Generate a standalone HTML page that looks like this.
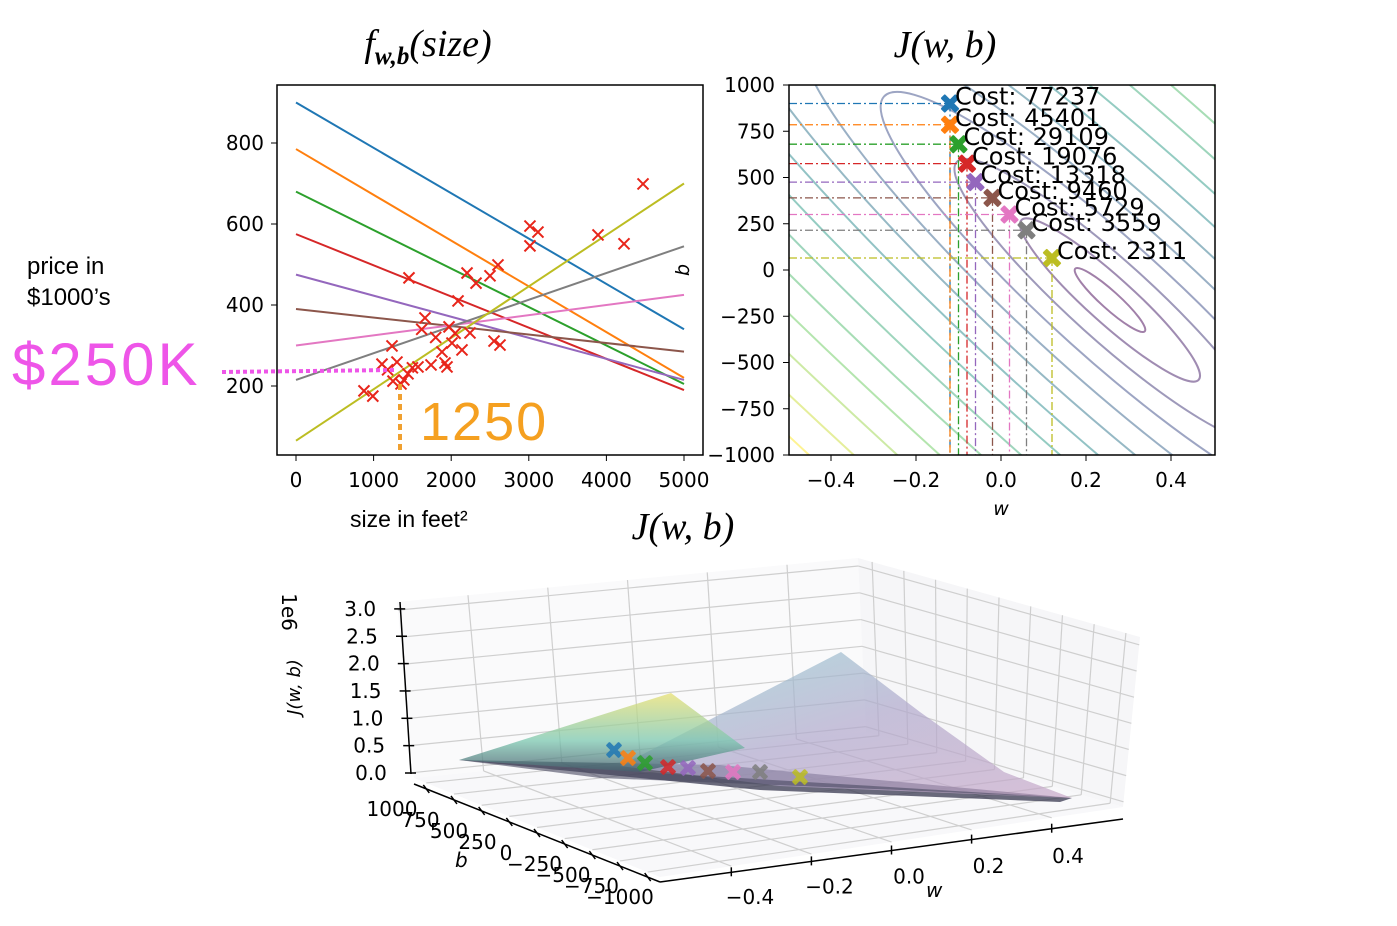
<!DOCTYPE html>
<html><head><meta charset="utf-8"><style>
html,body{margin:0;padding:0;background:#fff;width:1397px;height:926px;overflow:hidden;}
svg{display:block;font-family:"DejaVu Sans","Liberation Sans",sans-serif;}
</style></head><body>
<svg id="fig" width="1397" height="926" viewBox="0 0 1397 926" xmlns="http://www.w3.org/2000/svg">
<defs>
<clipPath id="clipL"><rect x="277" y="85" width="426" height="370"/></clipPath>
<clipPath id="clipR"><rect x="789" y="85" width="426" height="370"/></clipPath>
<linearGradient id="gY" x1="0" y1="0" x2="0" y2="1"><stop offset="0" stop-color="#e8e070"/><stop offset="0.6" stop-color="#7cc8b0"/><stop offset="1" stop-color="#405868"/></linearGradient>
<linearGradient id="gP" x1="0" y1="0" x2="1" y2="1"><stop offset="0" stop-color="#8fd0d0"/><stop offset="0.5" stop-color="#b0a8cc"/><stop offset="1" stop-color="#c8a8c8"/></linearGradient>
</defs>
<g id="titles">
<text x="428" y="56" text-anchor="middle" font-family="Liberation Serif,serif" font-style="italic" font-size="38">f<tspan font-size="25" dy="8" font-weight="bold">w,b</tspan><tspan dy="-8">(size)</tspan></text>
<text x="945" y="57" text-anchor="middle" font-family="Liberation Serif,serif" font-style="italic" font-size="38">J(w, b)</text>
<text x="683" y="539" text-anchor="middle" font-family="Liberation Serif,serif" font-style="italic" font-size="38">J(w, b)</text>
</g>
<g id="left"></g>
<g id="right"></g>
<g id="bottom"></g>
<g id="annot">
<text x="27" y="274" font-size="24" font-family="Liberation Sans,sans-serif">price in</text>
<text x="27" y="305" font-size="24" font-family="Liberation Sans,sans-serif">$1000’s</text>
<text x="12" y="385" font-size="60" fill="#ee55e8" font-family="Liberation Sans,sans-serif" letter-spacing="3">$250K</text>
<line x1="222" y1="372" x2="396" y2="370" stroke="#ee55e8" stroke-width="4" stroke-dasharray="4,3"/>
<line x1="400" y1="384" x2="400" y2="452" stroke="#f0a030" stroke-width="4" stroke-dasharray="6,4"/>
<text x="420" y="440" font-size="54" fill="#f5a020" font-family="Liberation Sans,sans-serif" letter-spacing="2">1250</text>
<text x="350" y="527" font-size="23" font-family="Liberation Sans,sans-serif">size in feet²</text>
</g>
</svg>
<script>
const NS="http://www.w3.org/2000/svg";
const colors=["#1f77b4","#ff7f0e","#2ca02c","#d62728","#9467bd","#8c564b","#e377c2","#7f7f7f","#bcbd22"];
const pathW=[-0.12,-0.12,-0.10,-0.08,-0.06,-0.02,0.02,0.06,0.12];
const pathB=[900,785,680,575,475,390,300,215,65];
const costs=[77237,45401,29109,19076,13318,9460,5729,3559,2311];
const lineEnd=[340,220,205,190,215,285,425,545,700];
const sizes=[990,876,1108,1237,1301,1250,1353,1443,1456,1572,1662,1740,1881,1920,1946,1972,2010,2088,2139,2204,2242,2320,2500,2552,2603,2629,3015,3015,3118,3892,4227,4472,1180,1390,1500,1800,2050,1620];
const prices=[175,188,254,299,259,212,205,230,467,247,368,252,284,257,247,346,306,410,289,479,331,454,472,311,499,301,546,595,580,573,551,699,240,215,245,320,330,340];
const xTicksL=[0,1000,2000,3000,4000,5000];
const yTicksL=[200,400,600,800];
const xTicksR=[-0.4,-0.2,0.0,0.2,0.4];
const yTicksR=[1000,750,500,250,0,-250,-500,-750,-1000];
const zTicks=[0,0.5,1.0,1.5,2.0,2.5,3.0];
const bTicks3=[1000,750,500,250,0,-250,-500,-750,-1000];
const wTicks3=[-0.4,-0.2,0.0,0.2,0.4];

function el(tag,attrs,parent){const e=document.createElementNS(NS,tag);for(const k in attrs)e.setAttribute(k,attrs[k]);parent.appendChild(e);return e;}
function txt(parent,x,y,s,attrs){const t=el('text',Object.assign({x:x,y:y},attrs||{}),parent);t.textContent=s;return t;}
function xMark(parent,x,y,s,color,w){return el('path',{d:`M${x-s},${y-s}L${x+s},${y+s}M${x-s},${y+s}L${x+s},${y-s}`,stroke:color,'stroke-width':w,fill:'none'},parent);}
function fatX(parent,x,y,s,color){
  const g=el('g',{transform:`translate(${x},${y}) rotate(45)`,fill:color},parent);
  const w=s*0.75;
  el('rect',{x:-s*1.3,y:-w/2,width:s*2.6,height:w,rx:1},g);
  el('rect',{x:-w/2,y:-s*1.3,width:w,height:s*2.6,rx:1},g);
  return g;
}

// LEFT
const L=document.getElementById('left');
const lx=v=>296+v*0.0776, ly=v=>467-v*0.405;
const lc=el('g',{'clip-path':'url(#clipL)'},L);
pathB.forEach((b,i)=>{
  const ln=el('line',{x1:lx(0),y1:ly(b),x2:lx(5000),y2:ly(lineEnd[i]),stroke:colors[i],'stroke-width':2},lc);
  
  
});
sizes.forEach((s,i)=>{
  const m=xMark(lc,lx(s),ly(prices[i]),5.5,'#e8251a',2);
  
  
});
const lf=el('rect',{x:277,y:85,width:426,height:370,fill:'none',stroke:'#000','stroke-width':1.5},L);


xTicksL.forEach(t=>{el('line',{x1:lx(t),y1:455,x2:lx(t),y2:461,stroke:'#000'},L);
  const tt=txt(L,lx(t),487,String(t),{'text-anchor':'middle','font-size':20});
  
  });
yTicksL.forEach(t=>{el('line',{x1:271,y1:ly(t),x2:277,y2:ly(t),stroke:'#000'},L);
  const tt=txt(L,264,ly(t)+7,String(t),{'text-anchor':'end','font-size':20});
  
  });

// RIGHT
const R=document.getElementById('right');
const rx=v=>1001+v*425, ry=v=>270-v*0.185;
const rc=el('g',{'clip-path':'url(#clipR)'},R);
function viridis(t){const c=[[68,1,84],[59,82,139],[33,145,140],[94,201,98],[253,231,37]];
  const s=t*(c.length-1),i=Math.min(Math.floor(s),c.length-2),f=s-i;
  return `rgb(${c[i].map((v,k)=>Math.round(v+(c[i+1][k]-v)*f)).join(',')})`;}
const nLev=17;
for(let k=1;k<=nLev;k++){
  const r=9*Math.pow(k,1.35);
  const e=el('ellipse',{cx:1110,cy:300,rx:r*5.2,ry:r,transform:'rotate(42 1110 300)',fill:'none',stroke:viridis(Math.min(1,(k-1)/13)),'stroke-width':2,opacity:0.5},rc);
  
  
}
pathW.forEach((w,i)=>{
  const px=rx(w),py=ry(pathB[i]);
  el('line',{x1:789,y1:py,x2:px,y2:py,stroke:colors[i],'stroke-width':1.3,'stroke-dasharray':'8,3,2,3'},rc);
  el('line',{x1:px,y1:py,x2:px,y2:455,stroke:colors[i],'stroke-width':1.3,'stroke-dasharray':'8,3,2,3'},rc);
});
pathW.forEach((w,i)=>{
  const px=rx(w),py=ry(pathB[i]);
  const m=fatX(R,px,py,8,colors[i]);
  
  
  const t=txt(R,px+5,py+1,'Cost: '+costs[i],{'font-size':24});
  
  
});
const rf=el('rect',{x:789,y:85,width:426,height:370,fill:'none',stroke:'#000','stroke-width':1.5},R);


xTicksR.forEach(t=>{el('line',{x1:rx(t),y1:455,x2:rx(t),y2:461,stroke:'#000'},R);
  const tt=txt(R,rx(t),487,(t<0?'−':'')+Math.abs(t).toFixed(1),{'text-anchor':'middle','font-size':20});
  
  });
yTicksR.forEach(t=>{el('line',{x1:783,y1:ry(t),x2:789,y2:ry(t),stroke:'#000'},R);
  const tt=txt(R,775,ry(t)+7,(t<0?'−':'')+Math.abs(t),{'text-anchor':'end','font-size':20});
  
  });
const wl=txt(R,1001,515,'w',{'text-anchor':'middle','font-size':19,'font-style':'italic'});

const bl=txt(R,0,0,'b',{'text-anchor':'middle','font-size':19,'font-style':'italic',transform:'translate(689,270) rotate(-90)'});


// BOTTOM 3D
const B=document.getElementById('bottom');
function bil(c,u,v){
  const x=(1-u)*(1-v)*c[0][0]+u*(1-v)*c[1][0]+u*v*c[2][0]+(1-u)*v*c[3][0];
  const y=(1-u)*(1-v)*c[0][1]+u*(1-v)*c[1][1]+u*v*c[2][1]+(1-u)*v*c[3][1];
  return [x,y];}
const paneL=[[414,778],[866,732],[858,558],[397,602]];
const paneR=[[866,732],[1123,807],[1140,637],[858,558]];
const floor=[[414,778],[866,732],[1123,807],[660,877]];
el('polygon',{points:paneL.map(p=>p.join(',')).join(' '),fill:'#fafafb'},B);
el('polygon',{points:paneR.map(p=>p.join(',')).join(' '),fill:'#f6f6f8'},B);
el('polygon',{points:floor.map(p=>p.join(',')).join(' '),fill:'#f8f8fa'},B);
const gs={stroke:'#cfcfcf','stroke-width':1.2};
const uw=w=>0.5+w*0.865, ub=b=>0.5-b/1000*0.45, vz=z=>(z+0.1)/3.25;
function seg(p,q){el('line',Object.assign({x1:p[0],y1:p[1],x2:q[0],y2:q[1]},gs),B);}
wTicks3.forEach(w=>{seg(bil(paneL,uw(w),0),bil(paneL,uw(w),1));
  seg(bil(floor,uw(w),0),bil([floor[3],floor[2],floor[1],floor[0]],uw(w),0));});
zTicks.forEach(z=>{seg(bil(paneL,0,vz(z)),bil(paneL,1,vz(z)));seg(bil(paneR,0,vz(z)),bil(paneR,1,vz(z)));});
bTicks3.forEach(b=>{seg(bil(paneR,ub(b),0),bil(paneR,ub(b),1));
  const u=ub(b);
  const p=[floor[0][0]+(floor[3][0]-floor[0][0])*u,floor[0][1]+(floor[3][1]-floor[0][1])*u];
  const q=[floor[1][0]+(floor[2][0]-floor[1][0])*u,floor[1][1]+(floor[2][1]-floor[1][1])*u];
  seg(p,q);});
const sf=el('g',{},B);


el('polygon',{points:'459,760 720,765 1072,798 1060,802 760,790',fill:'#3a3a50',opacity:0.75},sf);
el('polygon',{points:'620,766 841,652 920,712 1004,772 1072,798 780,786',fill:'url(#gP)',opacity:0.7},sf);
el('polygon',{points:'459,760 671,693 745,748 640,772',fill:'url(#gY)',opacity:0.75},sf);
el('polygon',{points:'459,760 640,772 1072,798 900,790 600,778',fill:'#4a4a60',opacity:0.6},sf);
const surfX=[614,628,645,668,688,708,733,760,800];
const surfY=[750,758,763,767,768,771,772,772,777];
pathW.forEach((w,i)=>{const m=fatX(B,surfX[i],surfY[i],7,colors[i]);m.setAttribute('opacity',0.85);
  
  });
el('line',{x1:400,y1:602,x2:411,y2:774,stroke:'#000','stroke-width':1.5},B);
el('line',{x1:414,y1:784,x2:660,y2:882,stroke:'#000','stroke-width':1.5},B);
el('line',{x1:660,y1:882,x2:1123,y2:819,stroke:'#000','stroke-width':1.5},B);
zTicks.forEach(z=>{const y=773-z*54.7, x=411-z*3.6;
  el('line',{x1:x-6,y1:y,x2:x+5,y2:y,stroke:'#000','stroke-width':1.5},B);
  const t=txt(B,x-40,y+7,z.toFixed(1),{'text-anchor':'middle','font-size':20});
  });
bTicks3.forEach((b,i)=>{const u=ub(b);const x=414+246*u, y=784+98*u;
  el('line',{x1:x-3,y1:y-4,x2:x+3,y2:y+4,stroke:'#000','stroke-width':1.5},B);
  const t=txt(B,392+i*28.5,816+i*11,(b<0?'−':'')+Math.abs(b),{'text-anchor':'middle','font-size':20});
  });
wTicks3.forEach((w,i)=>{const u=uw(w);const x=660+463*u, y=882-63*u;
  el('line',{x1:x,y1:y-5,x2:x,y2:y+4,stroke:'#000','stroke-width':1.5},B);
  const t=txt(B,750+i*79.5,904-i*10.3,(w<0?'−':'')+Math.abs(w).toFixed(1),{'text-anchor':'middle','font-size':20});
  });
const b3=txt(B,455,867,'b',{'font-size':20,'font-style':'italic'});
const w3=txt(B,926,897,'w',{'font-size':20,'font-style':'italic'});
const e6=txt(B,0,0,'1e6',{'font-size':20,transform:'translate(282,612) rotate(90)','text-anchor':'middle'});
const zl=txt(B,0,0,'J(w, b)',{'font-size':18,'font-style':'italic',transform:'translate(300,687) rotate(-90)','text-anchor':'middle'});
</script>
</body></html>
